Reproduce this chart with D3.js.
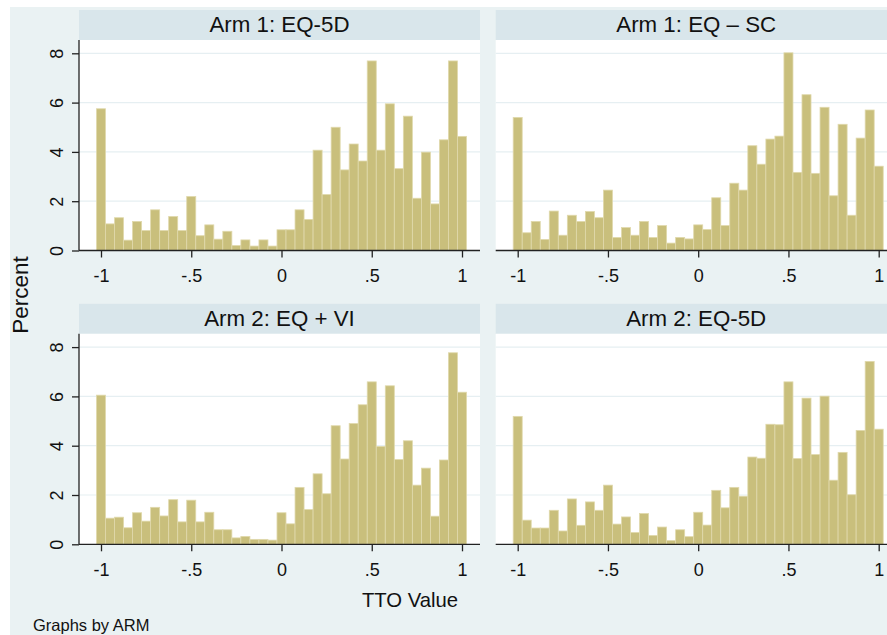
<!DOCTYPE html>
<html lang="en">
  <head>
    <meta charset="utf-8">
    <title>TTO histograms by ARM</title>
    <style>
      body { margin: 0; background: #fff; }
      text { font-family: "Liberation Sans", Arial, sans-serif; fill: #111; }
      .grid line { stroke: #e6eff2; stroke-width: 1.2px; }
      .axis path, .axis line { stroke: #222; stroke-width: 1.3px; }
      .bar { fill: #c9bf7c; stroke: #e0d9ac; stroke-width: 0.8px; }
    </style>
  </head>
  <body>
    <svg width="887" height="635"></svg>
  </body>
  <script src="https://d3js.org/d3.v7.min.js"></script>
  <script>
  // panel titles, in reading order
  var titles = ["Arm 1: EQ-5D", "Arm 1: EQ \u2013 SC", "Arm 2: EQ + VI", "Arm 2: EQ-5D"];

  // percent per bin (bins of width .05 centred on -1, -.95, ..., 1)
  var arm1EQ5D = [5.75,1.08,1.33,0.42,1.18,0.81,1.65,0.81,1.38,0.81,
                  2.19,0.60,1.04,0.46,0.78,0.20,0.43,0.18,0.43,0.18,
                  0.84,0.84,1.65,1.26,4.07,2.27,5.00,3.27,4.32,3.63,
                  7.69,4.07,5.95,3.32,5.45,2.12,3.99,1.89,4.49,7.69,4.63];
  var arm1EQSC = [5.40,0.72,1.18,0.45,1.60,0.62,1.43,1.18,1.58,1.33,
                  2.45,0.53,0.93,0.62,1.18,0.53,1.01,0.30,0.53,0.47,
                  1.04,0.85,2.14,1.01,2.73,2.45,4.25,3.50,4.52,4.64,
                  8.02,3.17,6.32,3.13,5.81,2.22,5.12,1.43,4.56,5.70,3.42];
  var arm2EQVI = [6.05,1.06,1.10,0.67,1.28,0.94,1.50,1.15,1.81,0.91,
                  1.79,0.91,1.30,0.59,0.59,0.26,0.32,0.20,0.20,0.17,
                  1.28,0.83,2.31,1.41,2.86,2.05,4.81,3.46,4.90,5.66,
                  6.59,3.97,6.43,3.44,4.20,2.40,3.09,1.14,3.42,7.77,6.17];
  var arm2EQ5D = [5.19,0.98,0.66,0.66,1.38,0.54,1.84,0.77,1.72,1.38,
                  2.40,0.82,1.11,0.48,1.25,0.36,0.70,0.15,0.59,0.31,
                  1.30,0.78,2.19,1.48,2.31,1.95,3.54,3.49,4.87,4.85,
                  6.59,3.48,5.93,3.64,6.01,2.60,3.73,2.01,4.62,7.42,4.67];
  var series = [arm1EQ5D, arm1EQSC, arm2EQVI, arm2EQ5D];

  var binWidth = 0.05;
  var binCenters = d3.range(41).map(function(i) { return -1 + i * binWidth; });

  var xTicks = [-1, -0.5, 0, 0.5, 1];
  var xTickLabels = ["-1", "-.5", "0", ".5", "1"];
  var yTicks = [0, 2, 4, 6, 8];

  var svg = d3.select("svg");

  // graph region
  svg.append("rect").attr("x", 10).attr("y", 7).attr("width", 877).attr("height", 628)
     .attr("fill", "#eaf2f3");

  var pw = 401, ph = 210.5, stripH = 30;
  var colX = [79, 495.7], rowY = [10, 303.8];

  var x = d3.scaleLinear().domain([-1, 1]).range([22, 383]);
  var y = d3.scaleLinear().domain([0, 8]).range([ph, ph - 197.2]);

  series.forEach(function(vals, i) {
    var col = i % 2, row = Math.floor(i / 2);
    var g = svg.append("g").attr("transform", "translate(" + colX[col] + "," + rowY[row] + ")");

    g.append("rect").attr("width", pw).attr("height", stripH).attr("fill", "#d9e6eb");
    g.append("text").attr("x", pw / 2).attr("y", 22).attr("text-anchor", "middle")
     .style("font-size", "22.3px").text(titles[i]);

    var p = g.append("g").attr("transform", "translate(0," + stripH + ")");
    p.append("rect").attr("width", pw).attr("height", ph).attr("fill", "#fff");

    p.append("g").attr("class", "grid").selectAll("line").data(yTicks.slice(1)).enter()
     .append("line").attr("x1", 0).attr("x2", pw)
     .attr("y1", function(d) { return y(d); }).attr("y2", function(d) { return y(d); });

    var bw = x(binWidth) - x(0);
    p.append("g").selectAll("rect").data(binCenters).enter().append("rect")
     .attr("class", "bar")
     .attr("x", function(d) { return x(d) - bw / 2; })
     .attr("width", bw)
     .attr("y", function(d, k) { return y(vals[k]); })
     .attr("height", function(d, k) { return y(0) - y(vals[k]); });

    var xa = p.append("g").attr("class", "axis").attr("transform", "translate(0," + ph + ")")
      .call(d3.axisBottom(x).tickValues(xTicks).tickFormat(function(d, k) { return xTickLabels[k]; })
            .tickSize(7).tickSizeOuter(0).tickPadding(12));
    xa.select(".domain").attr("d", "M0,0H" + pw);
    xa.selectAll("text").style("font-size", "18px").attr("fill", "#111");

    if (col === 0) {
      var ya = p.append("g").attr("class", "axis")
        .call(d3.axisLeft(y).tickValues(yTicks).tickSize(7).tickSizeOuter(0));
      ya.select(".domain").attr("d", "M0," + ph + "V0");
      ya.selectAll("text").style("font-size", "18px").attr("fill", "#111")
        .attr("text-anchor", "middle")
        .attr("x", 0).attr("y", 0).attr("dy", null)
        .attr("transform", "translate(-16,0) rotate(-90)");
    }
  });

  svg.append("text").attr("transform", "translate(28,295) rotate(-90)")
     .attr("text-anchor", "middle").style("font-size", "22.5px").text("Percent");
  svg.append("text").attr("x", 410).attr("y", 607).attr("text-anchor", "middle")
     .style("font-size", "20.3px").text("TTO Value");
  svg.append("text").attr("x", 33).attr("y", 631).style("font-size", "16.5px").text("Graphs by ARM");
  </script>
</html>
